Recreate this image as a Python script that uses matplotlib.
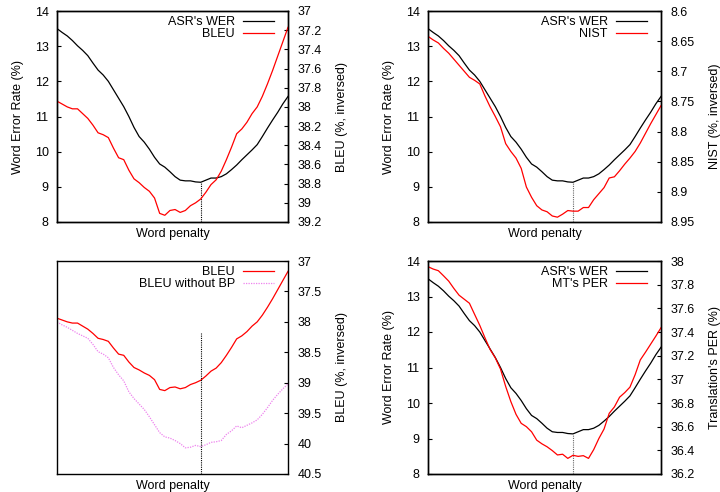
import numpy as np
import matplotlib
matplotlib.use("Agg")
import matplotlib.pyplot as plt

plt.rcParams['font.family'] = ['Liberation Sans', 'DejaVu Sans']
plt.rcParams['font.size'] = 9

# word penalty steps (no tick labels on the x axis)
steps = np.arange(46)

asr_wer = [13.50, 13.39, 13.29, 13.16, 13.01, 12.88, 12.73, 12.52, 12.32, 12.18,
           12.00, 11.76, 11.52, 11.28, 11.00, 10.69, 10.43, 10.27, 10.07, 9.84,
           9.65, 9.56, 9.43, 9.29, 9.19, 9.17, 9.17, 9.14, 9.13, 9.19,
           9.25, 9.25, 9.29, 9.37, 9.49, 9.62, 9.77, 9.91, 10.05, 10.20,
           10.43, 10.67, 10.90, 11.12, 11.36, 11.57]

bleu = [37.94, 37.97, 38.00, 38.02, 38.02, 38.07, 38.12, 38.19, 38.27, 38.29,
        38.32, 38.43, 38.53, 38.55, 38.66, 38.75, 38.79, 38.84, 38.88, 38.95,
        39.11, 39.13, 39.08, 39.07, 39.10, 39.08, 39.03, 39.00, 38.96, 38.89,
        38.81, 38.76, 38.67, 38.55, 38.42, 38.28, 38.23, 38.16, 38.07, 38.00,
        37.89, 37.76, 37.62, 37.47, 37.32, 37.17]

bleu_no_bp = [38.00, 38.05, 38.09, 38.14, 38.19, 38.23, 38.27, 38.37, 38.49, 38.53,
              38.59, 38.75, 38.87, 38.97, 39.15, 39.26, 39.35, 39.44, 39.56, 39.69,
              39.82, 39.89, 39.91, 39.95, 40.00, 40.07, 40.06, 40.03, 40.05, 40.02,
              39.98, 39.97, 39.95, 39.85, 39.79, 39.71, 39.74, 39.70, 39.66, 39.61,
              39.52, 39.41, 39.29, 39.19, 39.10, 39.02]

nist = [8.642, 8.648, 8.653, 8.662, 8.670, 8.680, 8.690, 8.700, 8.710, 8.715,
        8.721, 8.741, 8.759, 8.775, 8.792, 8.820, 8.833, 8.844, 8.861, 8.892,
        8.909, 8.923, 8.930, 8.933, 8.940, 8.942, 8.937, 8.931, 8.932, 8.932,
        8.926, 8.926, 8.913, 8.903, 8.893, 8.877, 8.875, 8.865, 8.854, 8.844,
        8.833, 8.819, 8.803, 8.787, 8.772, 8.757]

mt_per = [37.952, 37.932, 37.918, 37.875, 37.830, 37.768, 37.711, 37.677, 37.643, 37.549,
          37.456, 37.351, 37.252, 37.181, 37.087, 36.940, 36.812, 36.704, 36.628, 36.600,
          36.557, 36.486, 36.455, 36.430, 36.398, 36.361, 36.367, 36.332, 36.358, 36.349,
          36.355, 36.332, 36.406, 36.500, 36.580, 36.713, 36.767, 36.849, 36.888, 36.934,
          37.039, 37.164, 37.229, 37.297, 37.365, 37.436]

bleu_line_top = 38.18   # top of the dotted marker in the lower-left panel

wer_ticks = [8, 9, 10, 11, 12, 13, 14]
bleu_ticks = [37, 37.2, 37.4, 37.6, 37.8, 38, 38.2, 38.4, 38.6, 38.8, 39, 39.2]
bleu2_ticks = [37, 37.5, 38, 38.5, 39, 39.5, 40, 40.5]
nist_ticks = [8.6, 8.65, 8.7, 8.75, 8.8, 8.85, 8.9, 8.95]
per_ticks = [36.2, 36.4, 36.6, 36.8, 37, 37.2, 37.4, 37.6, 37.8, 38]

best = int(np.argmin(asr_wer))

fig = plt.figure(figsize=(7.2, 4.92), dpi=100)
W, H = 720, 492


def box(x0, y0, x1, y1):
    return [x0 / W, 1 - y1 / H, (x1 - x0) / W, (y1 - y0) / H]


def style(ax, side):
    ax.set_xlim(steps[0], steps[-1])
    ax.set_xticks([])
    for s in ax.spines.values():
        s.set_linewidth(1.0)
    pad = 6 if side == 'left' else 7
    ax.tick_params(axis='y', direction='in', length=3, width=0.8, pad=pad,
                   labelsize=9, colors='black')


def fmt(v):
    return ('%g' % v)


def legend(ax, handles):
    ax.legend(handles=handles, loc='upper right', bbox_to_anchor=(0.94, 0.975),
              frameon=False, markerfirst=False, borderpad=0, borderaxespad=0,
              handlelength=2.5, handletextpad=0.65, labelspacing=0.0, fontsize=9)


# --- panel 1: WER vs BLEU
ax1 = fig.add_axes(box(57, 11, 288, 222))
ax1b = ax1.twinx()
l1, = ax1.plot(steps, asr_wer, color='black', lw=0.9, label="ASR's WER")
l2, = ax1b.plot(steps, bleu, color='red', lw=0.9, label='BLEU')
ax1.plot([steps[best]] * 2, [8, asr_wer[best]], color='black', lw=0.8, ls=(0, (1, 1)))
ax1.set_ylim(8, 14)
ax1.set_yticks(wer_ticks)
ax1b.set_ylim(39.2, 37)
ax1b.set_yticks(bleu_ticks)
ax1b.set_yticklabels([fmt(v) for v in bleu_ticks])
style(ax1, 'left'); style(ax1b, 'right')
ax1.set_ylabel('Word Error Rate (%)', labelpad=8)
ax1b.set_ylabel('BLEU (%, inversed)', labelpad=10)
ax1.set_xlabel('Word penalty', labelpad=4)
legend(ax1b, [l1, l2])

# --- panel 2: WER vs NIST
ax2 = fig.add_axes(box(428, 11, 661, 222))
ax2b = ax2.twinx()
l1, = ax2.plot(steps, asr_wer, color='black', lw=0.9, label="ASR's WER")
l2, = ax2b.plot(steps, nist, color='red', lw=0.9, label='NIST')
ax2.plot([steps[best]] * 2, [8, asr_wer[best]], color='dimgray', lw=0.8, ls=(0, (1, 1)))
ax2.set_ylim(8, 14)
ax2.set_yticks(wer_ticks)
ax2b.set_ylim(8.95, 8.6)
ax2b.set_yticks(nist_ticks)
ax2b.set_yticklabels([fmt(v) for v in nist_ticks])
style(ax2, 'left'); style(ax2b, 'right')
ax2.set_ylabel('Word Error Rate (%)', labelpad=8)
ax2b.set_ylabel('NIST (%, inversed)', labelpad=10)
ax2.set_xlabel('Word penalty', labelpad=4)
legend(ax2b, [l1, l2])

# --- panel 3: BLEU with / without brevity penalty
ax3 = fig.add_axes(box(57, 261, 288, 474))
l1, = ax3.plot(steps, bleu, color='red', lw=0.9, label='BLEU')
l2, = ax3.plot(steps, bleu_no_bp, color='violet', lw=0.9, ls=(0, (1, 1)),
               label='BLEU without BP')
ax3.plot([steps[best]] * 2, [40.5, bleu_line_top], color='black', lw=0.8, ls=(0, (1, 1)))
ax3.set_ylim(40.5, 37)
ax3.yaxis.tick_right()
ax3.yaxis.set_label_position('right')
ax3.set_yticks(bleu2_ticks)
ax3.set_yticklabels([fmt(v) for v in bleu2_ticks])
style(ax3, 'right')
ax3.tick_params(axis='y', left=False)
ax3.set_ylabel('BLEU (%, inversed)', labelpad=10)
ax3.set_xlabel('Word penalty', labelpad=4)
legend(ax3, [l1, l2])

# --- panel 4: WER vs PER
ax4 = fig.add_axes(box(428, 261, 661, 474))
ax4b = ax4.twinx()
l1, = ax4.plot(steps, asr_wer, color='black', lw=0.9, label="ASR's WER")
l2, = ax4b.plot(steps, mt_per, color='red', lw=0.9, label="MT's PER")
ax4.plot([steps[best]] * 2, [8, asr_wer[best]], color='dimgray', lw=0.8, ls=(0, (1, 1)))
ax4.set_ylim(8, 14)
ax4.set_yticks(wer_ticks)
ax4b.set_ylim(36.2, 38)
ax4b.set_yticks(per_ticks)
ax4b.set_yticklabels([fmt(v) for v in per_ticks])
style(ax4, 'left'); style(ax4b, 'right')
ax4.set_ylabel('Word Error Rate (%)', labelpad=8)
ax4b.set_ylabel("Translation's PER (%)", labelpad=10)
ax4.set_xlabel('Word penalty', labelpad=4)
legend(ax4b, [l1, l2])

fig.savefig('out.png', dpi=100)
